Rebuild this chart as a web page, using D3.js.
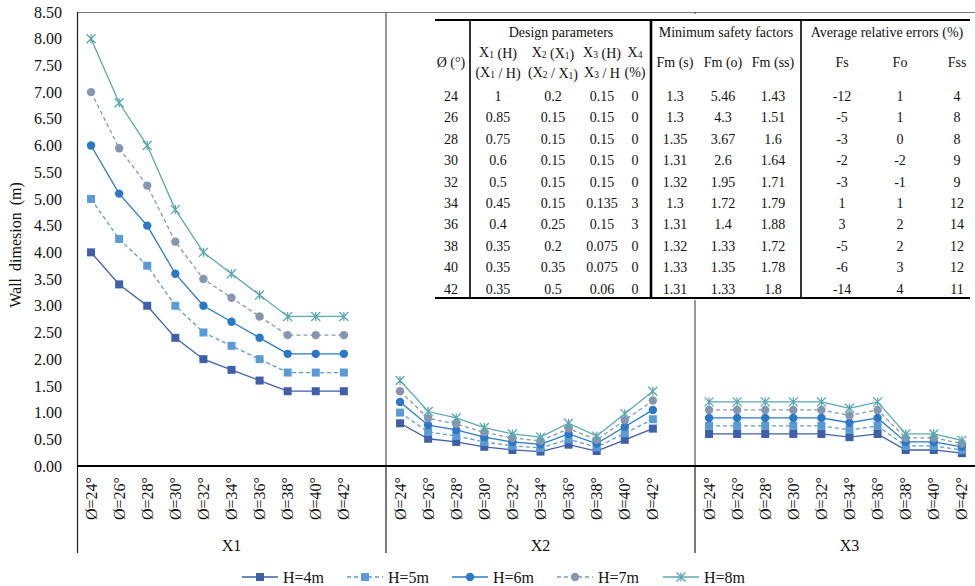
<!DOCTYPE html>
<html><head><meta charset="utf-8">
<script src="https://cdn.jsdelivr.net/npm/d3@7"></script>
<style>
html,body{margin:0;padding:0;background:#fff;}
svg{display:block;font-family:"Liberation Serif","Times New Roman",serif;}
</style></head><body>
<svg id="chart" width="975" height="586"></svg>
<script>
// ---- data ----
const angles = ["Ø=24°","Ø=26°","Ø=28°","Ø=30°","Ø=32°","Ø=34°","Ø=36°","Ø=38°","Ø=40°","Ø=42°"];
const groups = ["X1","X2","X3"];
const yTicks = [0,0.5,1,1.5,2,2.5,3,3.5,4,4.5,5,5.5,6,6.5,7,7.5,8,8.5];
const seriesNames = ["H=4m","H=5m","H=6m","H=7m","H=8m"];

// wall dimensions: X1 (10 angles), X2 (10 angles), X3 (10 angles)
const h4 = [4,3.4,3,2.4,2,1.8,1.6,1.4,1.4,1.4,
            0.8,0.51,0.45,0.36,0.3,0.27,0.4,0.28,0.49,0.7,
            0.6,0.6,0.6,0.6,0.6,0.54,0.6,0.3,0.3,0.24];
const h5 = [5,4.25,3.75,3,2.5,2.25,2,1.75,1.75,1.75,
            1,0.6375,0.5625,0.45,0.375,0.3375,0.5,0.35,0.6125,0.875,
            0.75,0.75,0.75,0.75,0.75,0.675,0.75,0.375,0.375,0.3];
const h6 = [6,5.1,4.5,3.6,3,2.7,2.4,2.1,2.1,2.1,
            1.2,0.765,0.675,0.54,0.45,0.405,0.6,0.42,0.735,1.05,
            0.9,0.9,0.9,0.9,0.9,0.81,0.9,0.45,0.45,0.36];
const h7 = [7,5.95,5.25,4.2,3.5,3.15,2.8,2.45,2.45,2.45,
            1.4,0.8925,0.7875,0.63,0.525,0.4725,0.7,0.49,0.8575,1.225,
            1.05,1.05,1.05,1.05,1.05,0.945,1.05,0.525,0.525,0.42];
const h8 = [8,6.8,6,4.8,4,3.6,3.2,2.8,2.8,2.8,
            1.6,1.02,0.9,0.72,0.6,0.54,0.8,0.56,0.98,1.4,
            1.2,1.2,1.2,1.2,1.2,1.08,1.2,0.6,0.6,0.48];
const seriesValues = [h4,h5,h6,h7,h8];

// table columns
const tAngle = ["24","26","28","30","32","34","36","38","40","42"];
const tX1 = ["1","0.85","0.75","0.6","0.5","0.45","0.4","0.35","0.35","0.35"];
const tX2 = ["0.2","0.15","0.15","0.15","0.15","0.15","0.25","0.2","0.35","0.5"];
const tX3 = ["0.15","0.15","0.15","0.15","0.15","0.135","0.15","0.075","0.075","0.06"];
const tX4 = ["0","0","0","0","0","3","3","0","0","0"];
const tFmS = ["1.3","1.3","1.35","1.31","1.32","1.3","1.31","1.32","1.33","1.31"];
const tFmO = ["5.46","4.3","3.67","2.6","1.95","1.72","1.4","1.33","1.35","1.33"];
const tFmSS = ["1.43","1.51","1.6","1.64","1.71","1.79","1.88","1.72","1.78","1.8"];
const tFs = ["-12","-5","-3","-2","-3","1","3","-5","-6","-14"];
const tFo = ["1","1","0","-2","-1","1","2","2","3","4"];
const tFss = ["4","8","8","9","9","12","14","12","12","11"];

// ---- styles ----
const colors = ["#3f5fa8","#5b9bd5","#2a78c6","#8796b0","#5aa8b0"];
const dashes = [null,"4,3",null,"4,3",null];
const markers = ["square","square","circle","circle","star"];
const serif = "Liberation Serif, Times New Roman, serif";

// ---- layout ----
const svg = d3.select("#chart");
const plotLeft = 77, plotTop = 12, axisY = 466, catBottom = 553;
const slotW = 309 / 11;

const slots = [];
groups.forEach(g => { angles.forEach(a => slots.push(g + "|" + a)); slots.push(g + "|gap"); });
const x = d3.scaleBand().domain(slots).range([plotLeft, plotLeft + slots.length * slotW]).padding(0);
const bw = x.bandwidth();
const y = d3.scaleLinear().domain([0, 8.5]).range([axisY, plotTop]);
const cx = k => x(k) + bw / 2;
const groupStart = g => x(g + "|" + angles[0]);
const groupEnd = g => x(g + "|gap") + bw;

// frame
svg.append("line").attr("x1", plotLeft).attr("x2", 975).attr("y1", plotTop + 0.5).attr("y2", plotTop + 0.5)
  .attr("stroke", "#7a7a7a").attr("stroke-width", 1);
svg.append("line").attr("x1", plotLeft + 0.5).attr("x2", plotLeft + 0.5).attr("y1", plotTop).attr("y2", catBottom)
  .attr("stroke", "#222").attr("stroke-width", 1.2);
groups.slice(1).forEach(g => {
  svg.append("line").attr("x1", groupStart(g)).attr("x2", groupStart(g)).attr("y1", plotTop).attr("y2", axisY)
    .attr("stroke", "#555").attr("stroke-width", 1.2);
  svg.append("line").attr("x1", groupStart(g)).attr("x2", groupStart(g)).attr("y1", axisY).attr("y2", catBottom)
    .attr("stroke", "#222").attr("stroke-width", 1.2);
});

// y axis
const yAxis = svg.append("g").attr("transform", `translate(${plotLeft},0)`)
  .call(d3.axisLeft(y).tickValues(yTicks).tickFormat(d3.format(".2f")).tickSize(0).tickPadding(15));
yAxis.attr("font-family", serif).attr("font-size", 16);
yAxis.select(".domain").remove();
yAxis.selectAll("text").attr("font-family", serif).attr("font-size", 16).attr("fill", "#111");

svg.append("text")
  .attr("transform", `translate(21,245) rotate(-90)`)
  .attr("text-anchor", "middle").attr("font-size", 16).attr("fill", "#111")
  .attr("word-spacing", 3)
  .text("Wall dimesion (m)");

// series lines and markers
const line = d3.line().x(d => cx(d.k)).y(d => y(d.v));
const starPath = s => `M${-s},${-s}L${s},${s}M${-s},${s}L${s},${-s}M0,${-s}L0,${s}`;

function drawMarker(sel, type, color) {
  if (type === "square") {
    sel.append("rect").attr("x", -4).attr("y", -4).attr("width", 8).attr("height", 8).attr("fill", color);
  } else if (type === "circle") {
    sel.append("circle").attr("r", 4.2).attr("fill", color);
  } else {
    sel.append("path").attr("d", starPath(4.5)).attr("stroke", color).attr("stroke-width", 1.3).attr("fill", "none");
  }
}

seriesValues.forEach((vals, si) => {
  const gS = svg.append("g");
  groups.forEach((g, gi) => {
    const pts = angles.map((a, i) => ({ k: g + "|" + a, v: vals[gi * 10 + i] }));
    gS.append("path").datum(pts).attr("d", line)
      .attr("fill", "none").attr("stroke", colors[si]).attr("stroke-width", 1.3)
      .attr("stroke-dasharray", dashes[si]);
    pts.forEach(p => {
      const m = gS.append("g").attr("transform", `translate(${cx(p.k)},${y(p.v)})`);
      drawMarker(m, markers[si], colors[si]);
    });
  });
});

// category axis
svg.append("line").attr("x1", plotLeft).attr("x2", 975).attr("y1", axisY).attr("y2", axisY)
  .attr("stroke", "#000").attr("stroke-width", 2);
groups.forEach(g => {
  angles.forEach(a => {
    svg.append("text")
      .attr("transform", `translate(${cx(g + "|" + a)},${axisY + 11}) rotate(-90)`)
      .attr("text-anchor", "end").attr("dy", "0.35em")
      .attr("font-size", 16).attr("fill", "#111").text(a);
  });
  svg.append("text").attr("x", (groupStart(g) + groupEnd(g)) / 2).attr("y", 551)
    .attr("text-anchor", "middle").attr("font-size", 16).attr("fill", "#111").text(g);
});

// legend
const legendX = [283, 388, 493, 598, 704];
seriesNames.forEach((n, si) => {
  const lg = svg.append("g").attr("transform", `translate(${legendX[si]},577)`);
  lg.append("line").attr("x1", -41).attr("x2", -5).attr("y1", 0).attr("y2", 0)
    .attr("stroke", colors[si]).attr("stroke-width", 1.3).attr("stroke-dasharray", dashes[si]);
  drawMarker(lg.append("g").attr("transform", "translate(-23,0)"), markers[si], colors[si]);
  lg.append("text").attr("x", 0).attr("y", 5.5).attr("font-size", 16).attr("fill", "#111").text(n);
});

// ---- data table ----
const tb = svg.append("g");
tb.append("rect").attr("x", 433).attr("y", 14).attr("width", 542).attr("height", 286).attr("fill", "#fff");

const colX = [451, 498, 553, 602, 635, 675, 723, 773, 842, 900, 957];
const tableCols = [tAngle, tX1, tX2, tX3, tX4, tFmS, tFmO, tFmSS, tFs, tFo, tFss];
const rowY0 = 96, rowH = 21.4;
const fs = 14;

// text with "_n" marking a subscript digit
function richText(sel, str) {
  const parts = str.split(/(_\d)/);
  parts.forEach(p => {
    if (!p) return;
    if (p.startsWith("_")) {
      sel.append("tspan").attr("font-size", 9.5).attr("dy", 1).text(p.slice(1));
      sel.append("tspan").attr("dy", -1).text("");
    } else {
      sel.append("tspan").text(p);
    }
  });
}
function cell(xp, yp, str) {
  const t = tb.append("text").attr("x", xp).attr("y", yp + 5).attr("text-anchor", "middle")
    .attr("font-size", fs).attr("fill", "#111");
  richText(t, str);
}

cell(561, 32, "Design parameters");
cell(726, 32, "Minimum safety factors");
cell(887, 32, "Average relative errors (%)");
cell(colX[0], 62, "Ø (°)");
["X_1 (H)", "X_2 (X_1)", "X_3 (H)", "X_4"].forEach((s, i) => cell(colX[i + 1], 52, s));
["(X_1 / H)", "(X_2 / X_1)", "X_3 / H", "(%)"].forEach((s, i) => cell(colX[i + 1], 72, s));
["Fm (s)", "Fm (o)", "Fm (ss)", "Fs", "Fo", "Fss"].forEach((s, i) => cell(colX[i + 5], 62, s));

tableCols.forEach((col, ci) => {
  col.forEach((v, ri) => cell(colX[ci], rowY0 + ri * rowH, v));
});

// table rules
tb.append("line").attr("x1", 435).attr("x2", 970).attr("y1", 20).attr("y2", 20).attr("stroke", "#000").attr("stroke-width", 2.2);
tb.append("line").attr("x1", 435).attr("x2", 970).attr("y1", 298).attr("y2", 298).attr("stroke", "#000").attr("stroke-width", 1.8);
[[470, 1.6], [651, 2.6], [801, 1.6]].forEach(([xx, w]) => {
  tb.append("line").attr("x1", xx).attr("x2", xx).attr("y1", 20).attr("y2", 298).attr("stroke", "#000").attr("stroke-width", w);
});
</script>
</body></html>
